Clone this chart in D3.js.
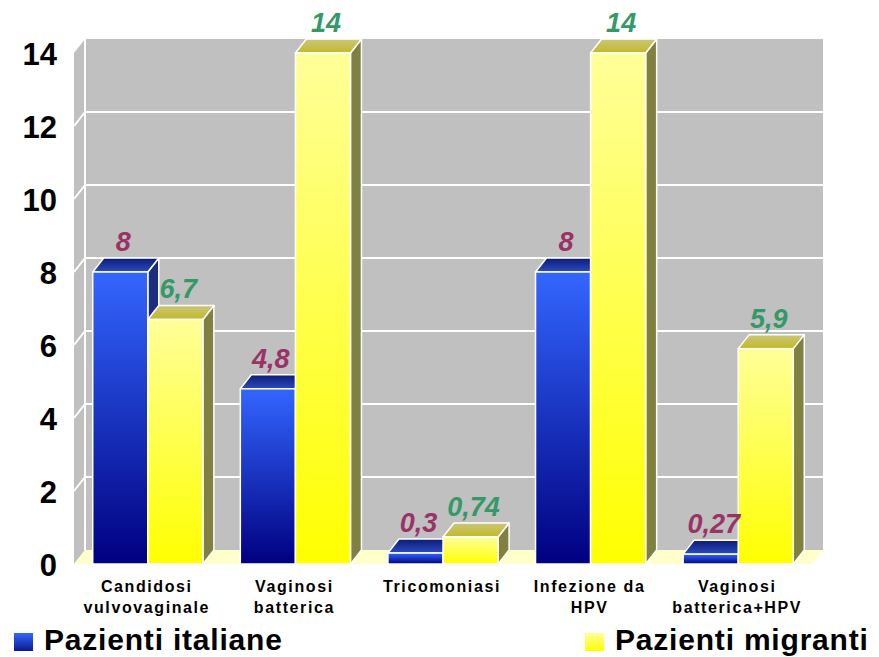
<!DOCTYPE html>
<html><head><meta charset="utf-8">
<script src="https://cdn.jsdelivr.net/npm/d3@7"></script>
<style>
html,body{margin:0;padding:0;background:#fff;}
svg{display:block;font-family:"Liberation Sans",Arial,Helvetica,sans-serif;}
</style></head>
<body><svg id="c" width="879" height="657"></svg>
<script>
// ---- data ----
const categories = [["Candidosi","vulvovaginale"],["Vaginosi","batterica"],["Tricomoniasi"],["Infezione da","HPV"],["Vaginosi","batterica+HPV"]];
const seriesNames = ["Pazienti italiane","Pazienti migranti"];
const italiane = [8, 4.8, 0.3, 8, 0.27];
const migranti = [6.7, 14, 0.74, 14, 5.9];
const yTicks = [0, 2, 4, 6, 8, 10, 12, 14];

// ---- layout ----
const svg = d3.select("#c");
const DX = 11, DY = 14;
const y = d3.scaleLinear().domain([0, 14]).range([550, 39]); // back plane
const yF = v => y(v) + DY;                                   // front plane
const x = d3.scaleBand().domain(d3.range(categories.length)).range([85, 823]);
const xs = d3.scaleBand().domain([0, 1]).range([0, x.bandwidth()]).paddingInner(0).paddingOuter(0.34);

const defs = svg.append("defs");
function vgrad(id, stops) {
  const g = defs.append("linearGradient").attr("id", id).attr("x1", 0).attr("y1", 0).attr("x2", 0).attr("y2", 1);
  stops.forEach(([o, c]) => g.append("stop").attr("offset", o).attr("stop-color", c));
}
vgrad("blueFront", [[0, "#3366ff"], [1, "#000080"]]);
vgrad("blueTop", [[0, "#0c1a76"], [1, "#2a4cc0"]]);
vgrad("yelFront", [[0, "#ffff99"], [1, "#ffff00"]]);
vgrad("yelTop", [[0, "#cbc67a"], [1, "#c2b926"]]);
vgrad("blueLeg", [[0, "#3366ff"], [1, "#0a1a8a"]]);
vgrad("yelLeg", [[0, "#ffff99"], [1, "#ffff00"]]);

const styles = [
  {front: "url(#blueFront)", top: "url(#blueTop)", side: "#1b2d7e", label: "#993366", legend: "url(#blueLeg)"},
  {front: "url(#yelFront)", top: "url(#yelTop)", side: "#808040", label: "#339966", legend: "url(#yelLeg)"}
];

const x0 = 85, x1 = 823;
// left wall
svg.append("polygon")
  .attr("points", [[x0 - DX, yF(14)], [x0, y(14)], [x0, y(0)], [x0 - DX, yF(0)]].join(" "))
  .attr("fill", "#c0c0c0");
// back wall
svg.append("rect").attr("x", x0).attr("y", y(14)).attr("width", x1 - x0).attr("height", y(0) - y(14)).attr("fill", "#c0c0c0");
// floor
svg.append("polygon")
  .attr("points", [[x0, y(0)], [x1, y(0)], [x1 - DX, yF(0)], [x0 - DX, yF(0)]].join(" "))
  .attr("fill", "#ffffcc");
// gridlines
const grid = yTicks.filter(t => t > 0 && t < 14);
svg.selectAll(".gb").data(grid).enter().append("line")
  .attr("x1", x0).attr("x2", x1).attr("y1", d => y(d)).attr("y2", d => y(d))
  .attr("stroke", "#fff").attr("stroke-width", 2);
svg.selectAll(".gl").data(grid).enter().append("line")
  .attr("x1", x0 - DX).attr("x2", x0).attr("y1", d => yF(d)).attr("y2", d => y(d))
  .attr("stroke", "#fff").attr("stroke-width", 2);
svg.append("line").attr("x1", x0).attr("x2", x0).attr("y1", y(14)).attr("y2", y(0)).attr("stroke", "#fff").attr("stroke-width", 2);

// y axis labels
svg.selectAll(".yl").data(yTicks).enter().append("text")
  .attr("x", 57).attr("y", d => yF(d) + 1).attr("text-anchor", "end").attr("dominant-baseline", "central")
  .attr("font-size", 31).attr("font-weight", "bold").attr("fill", "#000").text(d => d);

// bars
const data = [];
categories.forEach((c, i) => {
  [italiane[i], migranti[i]].forEach((v, s) => data.push({i, s, v}));
});
const bars = svg.selectAll(".bar").data(data).enter().append("g");
bars.each(function(d) {
  const g = d3.select(this);
  const fx0 = x(d.i) + xs(d.s) - DX, fx1 = fx0 + xs.bandwidth();
  const yt = yF(d.v), yb = yF(0);
  const st = styles[d.s];
  g.append("polygon").attr("points", [[fx1, yt], [fx1 + DX, yt - DY], [fx1 + DX, yb - DY], [fx1, yb]].join(" "))
    .attr("fill", st.side).attr("stroke", "#fff").attr("stroke-width", 1.5).attr("stroke-linejoin", "round");
  g.append("polygon").attr("points", [[fx0, yt], [fx0 + DX, yt - DY], [fx1 + DX, yt - DY], [fx1, yt]].join(" "))
    .attr("fill", st.top).attr("stroke", "#fff").attr("stroke-width", 1.5).attr("stroke-linejoin", "round");
  g.append("rect").attr("x", fx0).attr("y", yt).attr("width", fx1 - fx0).attr("height", yb - yt)
    .attr("fill", st.front).attr("stroke", "#fff").attr("stroke-width", 1.5);
});
// value labels
svg.selectAll(".vl").data(data).enter().append("text")
  .attr("x", d => x(d.i) + xs(d.s) - DX + xs.bandwidth() / 2 + 3)
  .attr("y", d => yF(d.v) - 21)
  .attr("text-anchor", "middle").attr("font-size", 27).attr("font-weight", "bold").attr("font-style", "italic")
  .attr("fill", d => styles[d.s].label)
  .text(d => String(d.v).replace(".", ","));

// category labels
categories.forEach((lines, i) => {
  const t = svg.append("text").attr("x", x(i) - DX + x.bandwidth() / 2 - 1).attr("y", 592)
    .attr("text-anchor", "middle").attr("font-size", 16).attr("font-weight", "bold").attr("letter-spacing", 1.6).attr("fill", "#000");
  lines.forEach((l, k) => t.append("tspan").attr("x", x(i) - DX + x.bandwidth() / 2 - 1).attr("dy", k ? 21 : 0).text(l));
});

// legend
const legX = [14, 585];
seriesNames.forEach((n, s) => {
  svg.append("rect").attr("x", legX[s]).attr("y", 633).attr("width", 19).attr("height", 18).attr("fill", styles[s].legend);
  svg.append("text").attr("x", legX[s] + 30).attr("y", 650).attr("font-size", 30).attr("font-weight", "bold")
    .attr("letter-spacing", 0.8).attr("fill", "#000").text(n);
});
</script></body></html>
